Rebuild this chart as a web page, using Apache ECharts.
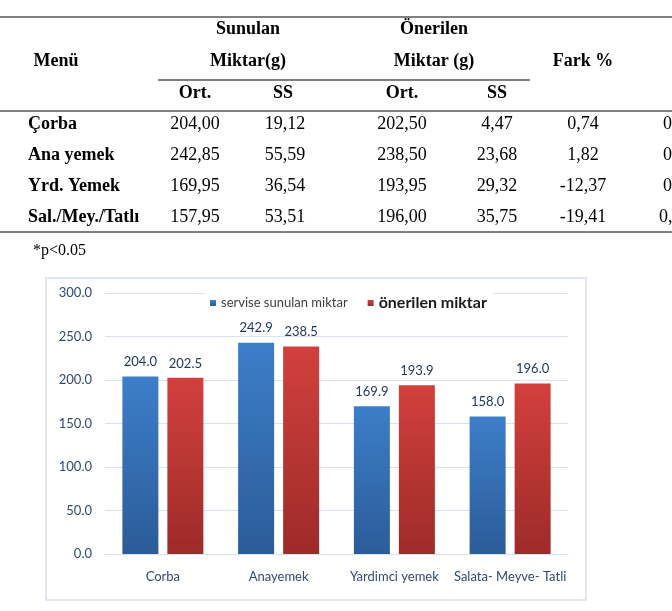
<!DOCTYPE html>
<html>
<head>
<meta charset="utf-8">
<script src="https://cdn.jsdelivr.net/npm/echarts@6/dist/echarts.min.js"></script>
<style>
html,body{margin:0;padding:0;background:#fff;}
#c{width:672px;height:611px;}
</style>
</head>
<body>
<div id="c"></div>
<script>
// ---- Table data ----
var menu = ['Çorba', 'Ana yemek', 'Yrd. Yemek', 'Sal./Mey./Tatlı'];
var sunulanOrt = ['204,00', '242,85', '169,95', '157,95'];
var sunulanSS = ['19,12', '55,59', '36,54', '53,51'];
var onerilenOrt = ['202,50', '238,50', '193,95', '196,00'];
var onerilenSS = ['4,47', '23,68', '29,32', '35,75'];
var fark = ['0,74', '1,82', '-12,37', '-19,41'];
var pCut = ['0', '0', '0', '0,'];

// ---- Chart data ----
var categories = ['Corba', 'Anayemek', 'Yardimci yemek', 'Salata- Meyve- Tatli'];
var served = [204.0, 242.9, 169.9, 158.0];
var recommended = [202.5, 238.5, 193.9, 196.0];
var seriesNames = ['servise sunulan miktar', 'önerilen miktar'];

var SERIF = '"Liberation Serif","Times New Roman",serif';
function txt(t, x, y, opts) {
  opts = opts || {};
  return {
    type: 'text', silent: true,
    style: {
      text: t, x: x, y: y,
      font: (opts.bold ? 'bold ' : '') + (opts.size || 18) + 'px ' + SERIF,
      fill: '#000',
      textAlign: opts.align || 'center',
      verticalAlign: 'middle', textVerticalAlign: 'middle'
    }
  };
}
function hline(x1, x2, y) {
  return { type: 'line', silent: true, shape: {x1: x1, y1: y, x2: x2, y2: y},
           style: {stroke: '#808080', lineWidth: 2} };
}

var g = [];
g.push(hline(0, 672, 17));
g.push(hline(158, 530, 80));
g.push(hline(0, 672, 111));
g.push(hline(0, 672, 232));
g.push(txt('Sunulan', 248, 29, {bold: true}));
g.push(txt('Miktar(g)', 248, 61, {bold: true}));
g.push(txt('Önerilen', 434, 29, {bold: true}));
g.push(txt('Miktar (g)', 434, 61, {bold: true}));
g.push(txt('Menü', 56, 61, {bold: true}));
g.push(txt('Fark %', 583, 61, {bold: true}));
g.push(txt('Ort.', 195, 93, {bold: true}));
g.push(txt('SS', 283, 93, {bold: true}));
g.push(txt('Ort.', 402, 93, {bold: true}));
g.push(txt('SS', 497, 93, {bold: true}));
var rowY = [124, 155, 186, 217];
for (var i = 0; i < menu.length; i++) {
  var y = rowY[i];
  g.push(txt(menu[i], 28, y, {bold: true, align: 'left'}));
  g.push(txt(sunulanOrt[i], 195, y));
  g.push(txt(sunulanSS[i], 285, y));
  g.push(txt(onerilenOrt[i], 402, y));
  g.push(txt(onerilenSS[i], 497, y));
  g.push(txt(fark[i], 583, y));
  g.push(txt(pCut[i], i === 3 ? 659 : 663, y, {align: 'left'}));
}
g.push(txt('*p<0.05', 33, 251, {size: 16, align: 'left'}));
// chart frame
g.push({ type: 'rect', silent: true, z: -10,
  shape: {x: 46, y: 278, width: 540, height: 322},
  style: {fill: '#fff', stroke: '#d6e0ea', lineWidth: 1.5} });

var SANS = 'Lato';
function grad(top, bottom) {
  return new echarts.graphic.LinearGradient(0, 0, 0, 1, [
    {offset: 0, color: top}, {offset: 1, color: bottom}
  ]);
}

var chart = echarts.init(document.getElementById('c'), null, {renderer: 'canvas'});
chart.setOption({
  animation: false,
  backgroundColor: '#fff',
  graphic: g,
  legend: {
    left: 204, top: 292,
    padding: [3, 6],
    backgroundColor: '#fff',
    icon: 'rect', itemWidth: 6, itemHeight: 6, itemGap: 20,
    data: [
      {name: seriesNames[0], textStyle: {fontFamily: SANS, fontSize: 13, color: '#404040'}},
      {name: seriesNames[1], textStyle: {fontFamily: SANS, fontSize: 16, fontWeight: 'bold', color: '#1a1a1a'}}
    ]
  },
  grid: {left: 105, right: 104, top: 293, bottom: 57},
  xAxis: {
    type: 'category', data: categories,
    axisLine: {lineStyle: {color: '#d9e2ee', width: 1}},
    axisTick: {show: false},
    axisLabel: {color: '#2f4a73', fontFamily: SANS, fontSize: 13, margin: 16, interval: 0}
  },
  yAxis: {
    type: 'value', min: 0, max: 300, interval: 50,
    axisLine: {show: false}, axisTick: {show: false},
    splitLine: {lineStyle: {color: '#d9e2ee', width: 1}},
    axisLabel: {color: '#2f4a73', fontFamily: SANS, fontSize: 13, margin: 13,
      formatter: function (v) { return v.toFixed(1); }}
  },
  series: [
    {
      name: seriesNames[0], type: 'bar', data: served,
      barWidth: 36, barGap: '25%',
      itemStyle: {color: grad('#3d7ec9', '#2b5c98')},
      label: {show: true, position: 'top', distance: 8, color: '#1f3864',
        fontFamily: SANS, fontSize: 13, formatter: function (p) { return p.value.toFixed(1); }}
    },
    {
      name: seriesNames[1], type: 'bar', data: recommended,
      barWidth: 36,
      itemStyle: {color: grad('#d2403d', '#9d2b29')},
      label: {show: true, position: 'top', distance: 8, color: '#1f3864',
        fontFamily: SANS, fontSize: 13, formatter: function (p) { return p.value.toFixed(1); }}
    }
  ]
});
</script>
</body>
</html>
